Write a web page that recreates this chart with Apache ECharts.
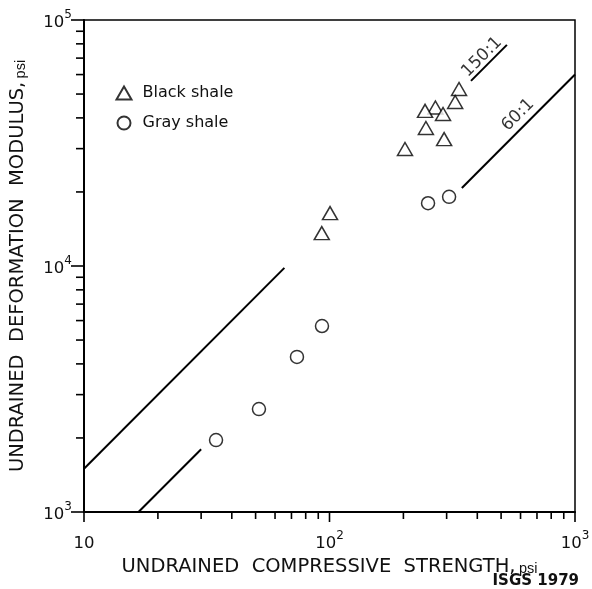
<!DOCTYPE html>
<html>
<head>
<meta charset="utf-8">
<script src="https://cdn.jsdelivr.net/npm/echarts@6/dist/echarts.min.js"></script>
<style>html,body{margin:0;padding:0;background:#fff;}#c{width:592px;height:589px;}</style>
</head>
<body>
<div id="c"></div>
<script>
// ---- data ----
const blackShaleX = [337, 325, 270, 245, 290, 247, 293, 203, 100.5, 93];
const blackShaleY = [52400, 46400, 44100, 42700, 41500, 36400, 32800, 29900, 16400, 13600];
const grayShaleX = [34.5, 51.6, 73.7, 93.2, 252, 307];
const grayShaleY = [1960, 2620, 4270, 5700, 18000, 19100];
// ratio lines (modulus = ratio * strength), drawn over these strength ranges
const ratio150 = 150;
const ratio150Ranges = [[10, 65.5], [377, 528]];
const ratio60 = 60;
const ratio60Ranges = [[16.67, 30], [346, 1000]];
const ratioLabelText = ['150:1', '60:1'];
const ratioLabelX = [418, 586];
const ratioLabelY = [70700, 41100];
// axes
const xMin = 10, xMax = 1000, yMin = 1000, yMax = 100000;
const xTickValues = [10,20,30,40,50,60,70,80,90,100,200,300,400,500,600,700,800,900,1000];
const yTickValues = [1000,2000,3000,4000,5000,6000,7000,8000,9000,10000,20000,30000,40000,50000,60000,70000,80000,90000,100000];
const xLabelValues = [10, 100, 1000];
const yLabelValues = [1000, 10000, 100000];

const FONT = 'DejaVu Sans';
function supFmt(v){
  const p = Math.round(Math.log10(v));
  if (p === 1) return '{b|10}';
  return '{b|10}{s|' + p + '}';
}
const richLbl = {
  b: {fontSize: 16.5, fontFamily: FONT, color: '#111', lineHeight: 22, verticalAlign: 'bottom'},
  s: {fontSize: 12, fontFamily: FONT, color: '#111', lineHeight: 22, verticalAlign: 'top', padding: [0,0,10,0]}
};
const richTitle = {
  t: {fontSize: 19.5, fontFamily: FONT, color: '#111', verticalAlign: 'bottom'},
  p: {fontSize: 14.5, fontFamily: 'Liberation Sans', color: '#111', verticalAlign: 'bottom'}
};

function segs(ratio, ranges){
  return ranges.map(r => r.map(x => [x, ratio * x]));
}
const lineSeries = [];
segs(ratio150, ratio150Ranges).concat(segs(ratio60, ratio60Ranges)).forEach(d => {
  lineSeries.push({type:'line', data:d, symbol:'none', silent:true,
    lineStyle:{color:'#000', width:2}, z:2});
});

function isMajor(v){ const l = Math.log10(v); return Math.abs(l - Math.round(l)) < 1e-9; }

const chart = echarts.init(document.getElementById('c'), null, {renderer:'canvas'});
chart.setOption({
  animation:false,
  backgroundColor:'#fff',
  grid:{left:84, right:17, top:20, bottom:77, show:true, borderColor:'#000', borderWidth:1.5,
        containLabel:false, outerBoundsMode:'none'},
  legend:{
    data:['Black shale','Gray shale'], orient:'vertical', left:110.5, top:80,
    itemWidth:15, itemHeight:13, itemGap:14,
    textStyle:{fontSize:16, fontFamily:FONT, color:'#111', padding:[0,0,0,6]}
  },
  xAxis:{
    type:'log', logBase:10, min:xMin, max:xMax,
    axisLine:{lineStyle:{color:'#000', width:2}},
    axisTick:{show:false},
    minorTick:{show:false},
    splitLine:{show:false},
    axisLabel:{customValues:xLabelValues, formatter:supFmt, rich:richLbl, margin:18},
    name:'{t|UNDRAINED  COMPRESSIVE  STRENGTH,} {p|psi}',
    nameLocation:'middle', nameGap:40,
    nameTextStyle:{rich:richTitle}
  },
  yAxis:{
    type:'log', logBase:10, min:yMin, max:yMax,
    axisLine:{lineStyle:{color:'#000', width:2}},
    axisTick:{show:false},
    minorTick:{show:false},
    splitLine:{show:false},
    axisLabel:{customValues:yLabelValues, formatter:supFmt, rich:richLbl, margin:12},
    name:'{t|UNDRAINED  DEFORMATION  MODULUS,} {p|psi}',
    nameLocation:'middle', nameGap:56, nameRotate:90,
    nameTextStyle:{rich:richTitle}
  },
  series: lineSeries.concat([
    {name:'Black shale', type:'scatter', symbol:'triangle', symbolSize:[15,13],
     data: blackShaleX.map((x,i)=>[x, blackShaleY[i]]),
     itemStyle:{color:'#fff', borderColor:'#000', borderWidth:1.5}, z:3},
    {name:'Gray shale', type:'scatter', symbol:'circle', symbolSize:13,
     data: grayShaleX.map((x,i)=>[x, grayShaleY[i]]),
     itemStyle:{color:'#fff', borderColor:'#000', borderWidth:1.5}, z:3},
    {type:'scatter', symbolSize:0, silent:true,
     data: ratioLabelX.map((x,i)=>({value:[x, ratioLabelY[i]], name:ratioLabelText[i]})),
     label:{show:true, position:'inside', formatter:p=>p.name, rotate:45,
       fontSize:17, fontFamily:FONT, color:'#000'}}
  ])
});

// axis ticks placed through the chart's own scales
const graphics = [{
  type:'text', right:13, top:574,
  style:{text:'ISGS 1979', font:'bold 15px "DejaVu Sans"', fill:'#111'}
}];
const origin = chart.convertToPixel({gridIndex:0}, [xMin, yMin]);
xTickValues.forEach(v => {
  const pt = chart.convertToPixel({gridIndex:0}, [v, yMax]);
  const len = isMajor(v) ? 10 : 7;
  graphics.push({type:'line', silent:true, z:10,
    shape:{x1:pt[0], y1:origin[1], x2:pt[0], y2:origin[1] + len},
    style:{stroke:'#000', lineWidth:1.6}});
});
yTickValues.forEach(v => {
  const pt = chart.convertToPixel({gridIndex:0}, [xMax, v]);
  const len = isMajor(v) ? 13 : 8;
  graphics.push({type:'line', silent:true, z:10,
    shape:{x1:origin[0] - len, y1:pt[1], x2:origin[0], y2:pt[1]},
    style:{stroke:'#000', lineWidth:1.6}});
});
chart.setOption({graphic: graphics});
</script>
</body>
</html>
